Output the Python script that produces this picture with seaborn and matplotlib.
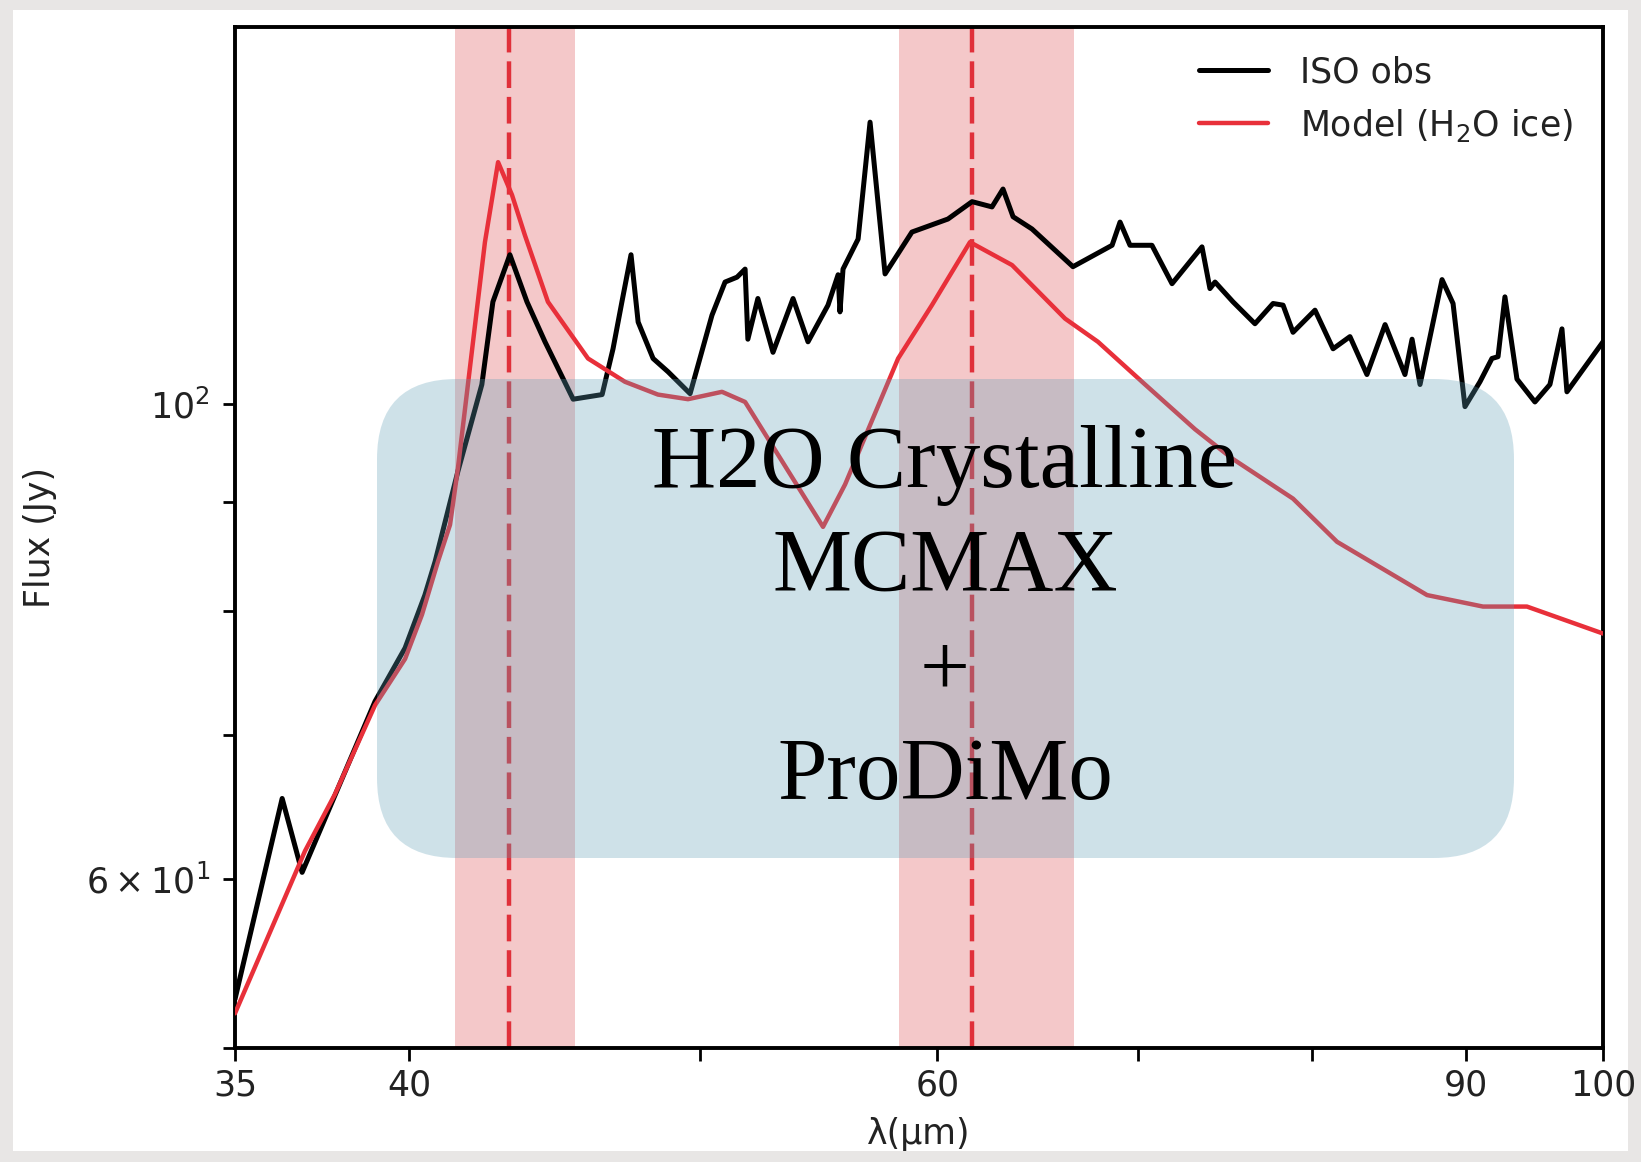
import matplotlib
matplotlib.use("Agg")
import matplotlib.pyplot as plt
import seaborn as sns
import pandas as pd
from matplotlib.patches import FancyBboxPatch, Rectangle
from matplotlib.ticker import FixedLocator, FixedFormatter, NullFormatter

# ---------------- data ----------------
obs_wavelength = [35.0, 36.29, 36.85, 38.97, 39.88, 40.49, 40.81, 41.53, 42.30, 42.66,
                  43.22, 43.79, 44.40, 45.37, 46.39, 46.78, 47.10, 47.43, 47.69, 48.24,
                  48.80, 49.63, 50.47, 50.98, 51.45, 51.77, 51.88, 52.28, 52.89, 53.71,
                  54.33, 55.17, 55.60, 55.68, 55.81, 56.46, 56.98, 57.64, 58.84, 60.49,
                  61.62, 62.57, 63.10, 63.59, 64.52, 66.58, 68.61, 69.03, 69.56, 70.74,
                  71.84, 73.51, 73.96, 74.25, 75.28, 76.56, 77.63, 78.23, 78.83, 80.17,
                  81.29, 82.35, 83.43, 84.60, 85.90, 86.37, 86.90, 88.38, 89.13, 89.95,
                  90.99, 91.83, 92.26, 92.75, 93.61, 94.91, 96.01, 96.90, 97.27, 100.0]
obs_flux = [52.7, 65.4, 60.4, 72.6, 76.9, 81.4, 84.4, 93.0, 102.1, 111.6,
            117.4, 111.6, 106.9, 100.5, 101.0, 106.1, 111.6, 117.4, 109.2, 105.0,
            103.5, 101.1, 110.0, 114.0, 114.6, 115.6, 107.2, 112.0, 105.7, 112.0,
            106.9, 111.2, 114.9, 110.4, 115.6, 119.4, 135.4, 115.0, 120.3, 122.0,
            124.3, 123.6, 126.0, 122.3, 120.7, 115.9, 118.6, 121.6, 118.6, 118.6,
            113.8, 118.4, 113.2, 114.0, 111.6, 109.0, 111.4, 111.2, 108.0, 110.6,
            106.1, 107.5, 103.2, 108.9, 103.2, 107.2, 102.1, 114.3, 111.4, 99.7,
            102.4, 105.0, 105.2, 112.2, 102.7, 100.2, 102.1, 108.4, 101.3, 106.9]

model_wavelength = [35.0, 36.93, 37.79, 38.97, 39.88, 40.40, 40.90, 41.28, 41.53, 42.40,
                    42.83, 43.29, 43.72, 44.50, 45.89, 47.21, 48.42, 49.55, 50.86, 51.77,
                    54.96, 55.90, 58.22, 59.75, 61.52, 63.54, 66.18, 67.87, 70.37, 73.12,
                    75.22, 78.83, 81.54, 87.37, 91.20, 94.33, 100.0]
model_flux = [51.9, 61.8, 65.7, 72.3, 76.0, 79.7, 84.4, 87.8, 93.3, 119.0,
              129.7, 125.2, 119.9, 111.6, 105.0, 102.4, 101.0, 100.5, 101.3, 100.2,
              87.6, 91.7, 105.0, 111.2, 119.0, 116.1, 109.6, 106.9, 102.1, 97.3,
              94.3, 90.3, 86.2, 81.4, 80.4, 80.4, 78.1]

band_low = [41.45, 58.25]
band_high = [45.45, 66.65]
band_center = [43.2, 61.6]

x_ticks = [35, 40, 60, 90, 100]
x_ticklabels = ["35", "40", "60", "90", "100"]
x_minor = [50, 70, 80]
y_ticks = [60, 100]
y_ticklabels = [r"$\mathdefault{6\times10^{1}}$", r"$\mathdefault{10^{2}}$"]
y_minor = [50, 70, 80, 90]

series_labels = ["ISO obs", "Model (H$_2$O ice)"]
overlay_lines = ["H2O Crystalline", "MCMAX", "+", "ProDiMo"]
x_label = "λ(μm)"
y_label = "Flux (Jy)"

# ---------------- figure ----------------
sns.set_theme(style="ticks")
plt.rcParams["font.family"] = ["DejaVu Sans"]
plt.rcParams["axes.edgecolor"] = "black"
plt.rcParams["axes.linewidth"] = 2.8

W, H = 1641, 1162
FS = 25
fig = plt.figure(figsize=(W / 100, H / 100), dpi=100, facecolor="#e8e6e5")
fig.add_artist(Rectangle((13 / W, 11 / H), 1615 / W, 1141 / H, transform=fig.transFigure,
                         facecolor="white", edgecolor="none", zorder=-10))
ax = fig.add_axes([235 / W, 114 / H, 1368 / W, 1021 / H])
ax.set_facecolor("white")
ax.set_xscale("log")
ax.set_yscale("log")

for lo, hi in zip(band_low, band_high):
    ax.axvspan(lo, hi, color="tab:red", alpha=0.25, lw=0, zorder=1)
for c in band_center:
    ax.axvline(c, color="#e0303a", lw=3.2, ls=(0, (6, 2)), zorder=2)

obs_df = pd.DataFrame({"wavelength": obs_wavelength, "flux": obs_flux})
mod_df = pd.DataFrame({"wavelength": model_wavelength, "flux": model_flux})
sns.lineplot(data=obs_df, x="wavelength", y="flux", ax=ax, color="black", lw=3.6,
             estimator=None, sort=False, label=series_labels[0], zorder=3)
sns.lineplot(data=mod_df, x="wavelength", y="flux", ax=ax, color="#e8303a", lw=3.2,
             estimator=None, sort=False, label=series_labels[1], zorder=3)

ax.set_xlim(35, 100)
ax.set_ylim(50, 150)

ax.xaxis.set_major_locator(FixedLocator(x_ticks))
ax.xaxis.set_major_formatter(FixedFormatter(x_ticklabels))
ax.xaxis.set_minor_locator(FixedLocator(x_minor))
ax.xaxis.set_minor_formatter(NullFormatter())
ax.yaxis.set_major_locator(FixedLocator(y_ticks))
ax.yaxis.set_major_formatter(FixedFormatter(y_ticklabels))
ax.yaxis.set_minor_locator(FixedLocator(y_minor))
ax.yaxis.set_minor_formatter(NullFormatter())
ax.tick_params(which="both", direction="out", length=9, width=2, labelsize=FS,
               labelcolor="#222222", color="black")
ax.tick_params(axis="x", pad=6)
ax.tick_params(axis="y", pad=9)

ax.set_xlabel(x_label, fontsize=FS, color="#222222")
ax.set_ylabel(y_label, fontsize=FS, color="#222222")
ax.xaxis.set_label_coords(0.5, -0.068)
ax.yaxis.set_label_coords(-0.13, 0.5)

handles, labels = ax.get_legend_handles_labels()
leg = ax.legend(handles, labels, loc="upper right", bbox_to_anchor=(0.988, 0.986),
                frameon=False, fontsize=FS, handlelength=2.0, handletextpad=0.9,
                borderaxespad=0, borderpad=0.4, labelcolor="#222222")
leg.set_zorder(6)

# translucent rounded overlay box
bx0, by0, bx1, by1 = 377, 379, 1514, 858
rad = 80
box = FancyBboxPatch((bx0 / W, (H - by1) / H), (bx1 - bx0) / W, (by1 - by0) / H,
                     boxstyle=f"round,pad=0,rounding_size={rad / W}",
                     mutation_aspect=W / H, transform=fig.transFigure,
                     facecolor="#5f9eb6", alpha=0.3, edgecolor="none", zorder=4,
                     clip_on=False)
ax.add_artist(box)

baselines = [487, 590, 694, 799]
for txt, b in zip(overlay_lines, baselines):
    fig.text(945 / W, (H - b) / H, txt, ha="center", va="baseline", fontsize=64,
             family="Liberation Serif", color="black", zorder=5)

fig.savefig("out.png", dpi=100, facecolor=fig.get_facecolor())
